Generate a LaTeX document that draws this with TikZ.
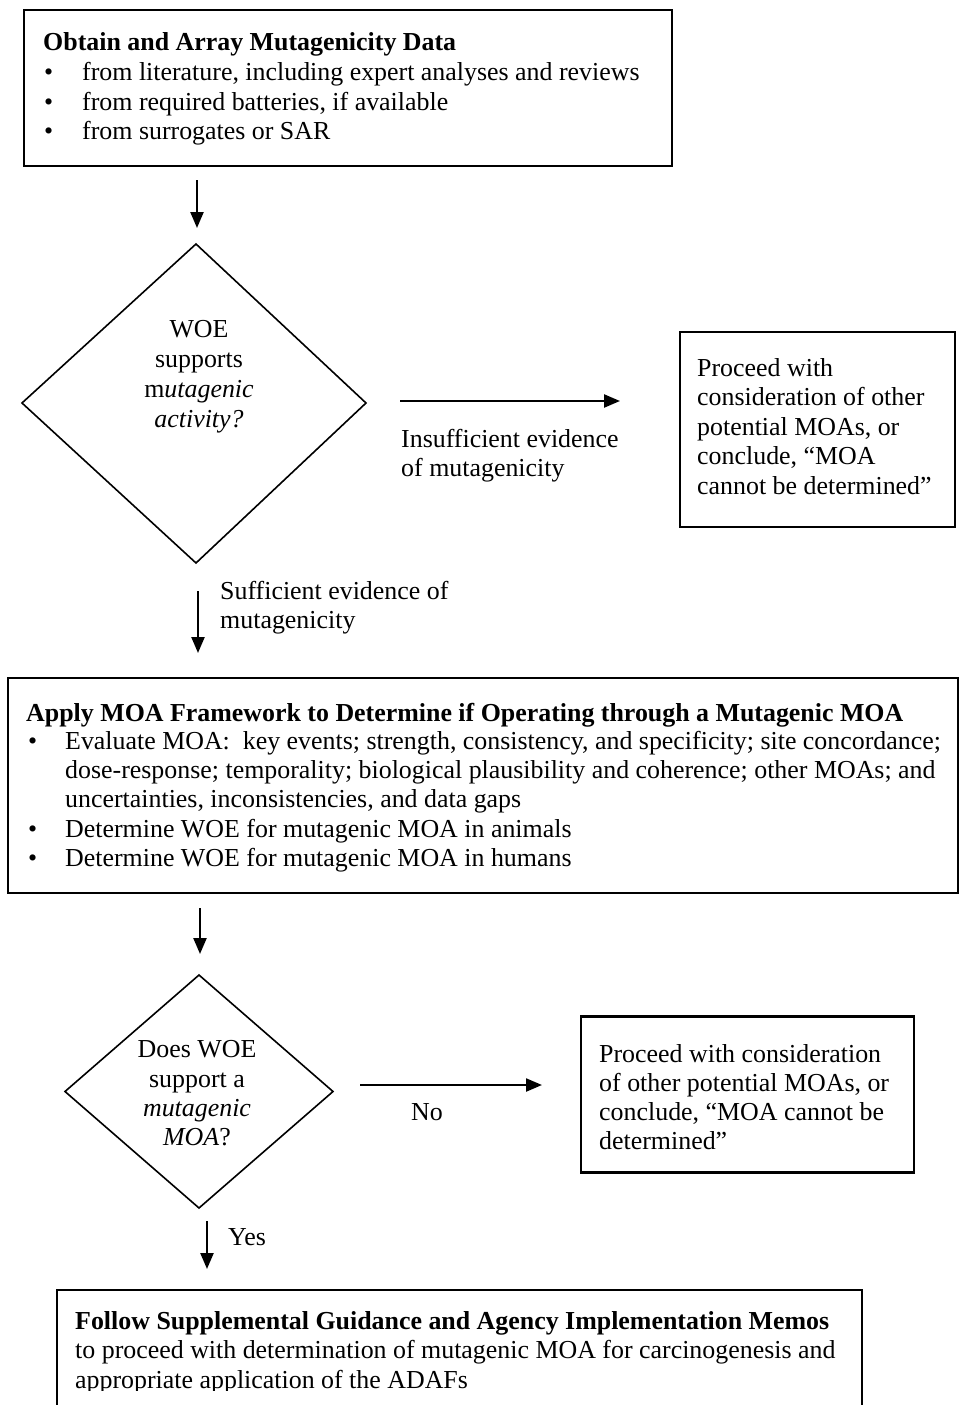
\documentclass[tikz,border=0pt]{standalone}
\usepackage{fontspec}
\setmainfont{Liberation Serif}
\usetikzlibrary{arrows.meta}
\begin{document}
\begin{tikzpicture}[x=1pt,y=-1pt,
  box/.style={draw, line width=2.3pt, inner sep=0pt, outer sep=0pt},
  dia/.style={draw, line width=1.6pt, line join=miter},
  arr/.style={line width=2.3pt, -{Triangle[length=16pt,width=13pt]}},
  txt/.style={inner sep=0pt, anchor=base west, font=\fontsize{25.9}{29.4}\selectfont},
  ctxt/.style={inner sep=0pt, anchor=base, font=\fontsize{25.9}{29.4}\selectfont},
]
\useasboundingbox (0,0) rectangle (959,1405);
\fill[white] (0,0) rectangle (959,1405);
\clip (0,0) rectangle (959,1405);

\newcommand\bulA{\makebox[38pt][l]{•}}
\newcommand\bulB{\makebox[37pt][l]{•}}

% ---------- Box 1
\node[box, minimum width=648pt, minimum height=156pt] (b1) at (348,88) {};
\node[txt] (t1) at (43,51) {\textbf{Obtain and Array Mutagenicity Data}};
\node[txt] (t1a) at (44,81) {\bulA from literature, including expert analyses and reviews};
\node[txt] (t1b) at (44,110) {\bulA from required batteries, if available};
\node[txt] (t1c) at (44,139) {\bulA from surrogates or SAR};

% ---------- Arrow 1
\coordinate (a1s) at (197,180);
\coordinate (a1e) at (197,228);
\draw[arr] (a1s) -- (a1e);

% ---------- Diamond 1
\coordinate (d1t) at (196,244);
\coordinate (d1r) at (366,403);
\coordinate (d1b) at (196,563);
\coordinate (d1l) at (22,403);
\draw[dia] (d1t) -- (d1r) -- (d1b) -- (d1l) -- cycle;
\node[ctxt] (q1a) at (199,337) {WOE};
\node[ctxt] (q1b) at (199,367) {supports};
\node[ctxt] (q1c) at (199,397) {m\textit{utagenic}};
\node[ctxt] (q1d) at (199,427) {\textit{activity?}};

% ---------- Arrow right 1
\coordinate (a2s) at (400,401);
\coordinate (a2e) at (620,401);
\draw[arr] (a2s) -- (a2e);
\node[txt] (l2a) at (401,447) {Insufficient evidence};
\node[txt] (l2b) at (401,476) {of mutagenicity};

% ---------- Right box 1
\node[box, minimum width=275pt, minimum height=195pt] (r1) at (817.5,429.5) {};
\node[txt] (r1a) at (697,376.5) {Proceed with};
\node[txt] (r1b) at (697,405.9) {consideration of other};
\node[txt] (r1c) at (697,435.3) {potential MOAs, or};
\node[txt] (r1d) at (697,464.7) {conclude, “MOA};
\node[txt] (r1e) at (697,494.1) {cannot be determined”};

% ---------- Arrow down 2
\coordinate (a3s) at (198,591);
\coordinate (a3e) at (198,653);
\draw[arr] (a3s) -- (a3e);
\node[txt] (l3a) at (220,599) {Sufficient evidence of};
\node[txt] (l3b) at (220,628) {mutagenicity};

% ---------- Box 2
\node[box, minimum width=950pt, minimum height=215pt] (b2) at (483,785.5) {};
\node[txt] (t2) at (26,721) {\textbf{Apply MOA Framework to Determine if Operating through a Mutagenic MOA}};
\node[txt] (t2a) at (28,749) {\bulB Evaluate MOA:\ \ key events; strength, consistency, and specificity; site concordance;};
\node[txt] (t2b) at (65,778) {dose-response; temporality; biological plausibility and coherence; other MOAs; and};
\node[txt] (t2c) at (65,807) {uncertainties, inconsistencies, and data gaps};
\node[txt] (t2d) at (28,837) {\bulB Determine WOE for mutagenic MOA in animals};
\node[txt] (t2e) at (28,866) {\bulB Determine WOE for mutagenic MOA in humans};

% ---------- Arrow 4
\coordinate (a4s) at (200,908);
\coordinate (a4e) at (200,954);
\draw[arr] (a4s) -- (a4e);

% ---------- Diamond 2
\coordinate (d2t) at (199,975);
\coordinate (d2r) at (333,1091.5);
\coordinate (d2b) at (199,1208);
\coordinate (d2l) at (65,1091.5);
\draw[dia] (d2t) -- (d2r) -- (d2b) -- (d2l) -- cycle;
\node[ctxt] (q2a) at (197,1057) {Does WOE};
\node[ctxt] (q2b) at (197,1087) {support a};
\node[ctxt] (q2c) at (197,1116) {\textit{mutagenic}};
\node[ctxt] (q2d) at (197,1145) {\textit{MOA}?};

% ---------- Arrow right 2
\coordinate (a5s) at (360,1085);
\coordinate (a5e) at (542,1085);
\draw[arr] (a5s) -- (a5e);
\node[ctxt] (l5) at (427,1120) {No};

% ---------- Right box 2
\node[box, minimum width=333pt, minimum height=156pt] (r2) at (747.5,1094.5) {};
\node[txt] (r2a) at (599,1062) {Proceed with consideration};
\node[txt] (r2b) at (599,1091) {of other potential MOAs, or};
\node[txt] (r2c) at (599,1120) {conclude, “MOA cannot be};
\node[txt] (r2d) at (599,1149) {determined”};

% ---------- Arrow 6
\coordinate (a6s) at (207,1221);
\coordinate (a6e) at (207,1269);
\draw[arr] (a6s) -- (a6e);
\node[txt] (l6) at (228,1245) {Yes};

% ---------- Box 3 (cut off at the bottom)
\node[box, minimum width=805pt, minimum height=160pt] (b3) at (459.5,1370) {};
\node[txt] (t3) at (75,1329) {\textbf{Follow Supplemental Guidance and Agency Implementation Memos}};
\node[txt] (t3a) at (75,1358.5) {to proceed with determination of mutagenic MOA for carcinogenesis and};
\begin{scope}
\clip (60,1350) rectangle (850,1390);
\node[txt] (t3b) at (75,1388) {appropriate application of the ADAFs};
\end{scope}
\end{tikzpicture}
\end{document}
